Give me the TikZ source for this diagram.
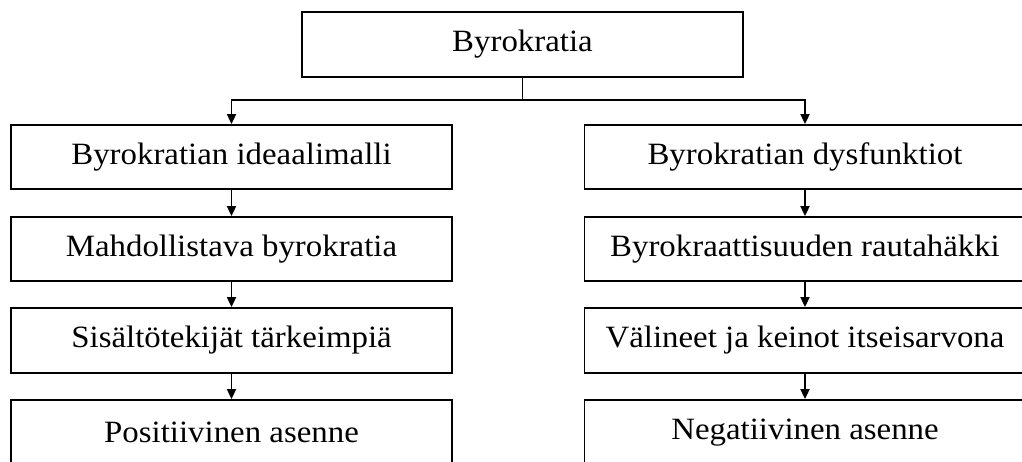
\documentclass[tikz,border=0pt]{standalone}
\usepackage{fontspec}
\setmainfont{Liberation Serif}[FakeStretch=1.06]
\usetikzlibrary{arrows.meta}
\begin{document}
\begin{tikzpicture}[x=1pt,y=-1pt,
  box/.style={draw, line width=1.8pt, minimum width=441pt, minimum height=64pt, inner sep=0pt, font=\fontsize{31}{35}\selectfont},
  arr/.style={line width=1.8pt, -{Triangle[length=10pt,width=9pt]}},
  ln/.style={line width=1.8pt}]
\useasboundingbox[clip] (0,0) rectangle (1022,462);
\node[box, minimum height=65pt] (top) at (522.5,44.5) {Byrokratia};
\node[box] (l1) at (231.5,157) {Byrokratian ideaalimalli};
\node[box] (l2) at (231.5,249) {Mahdollistava byrokratia};
\node[box, minimum height=65pt] (l3) at (231.5,340.5) {Sisältötekijät tärkeimpiä};
\node[box, minimum height=65pt] (l4) at (231.5,432.5) {Positiivinen asenne};
\node[box] (r1) at (805,157) {Byrokratian dysfunktiot};
\node[box] (r2) at (805,249) {Byrokraattisuuden rautahäkki};
\node[box, minimum height=65pt] (r3) at (805,340.5) {Välineet ja keinot itseisarvona};
\node[box, minimum height=65pt] (r4) at (805,432.5) {Negatiivinen asenne};
\coordinate (j) at (522.5,100);
\draw[ln] (top.south) -- (j);
\draw[arr] (j) -| (l1.north);
\draw[arr] (j) -| (r1.north);
\draw[arr] (l1) -- (l2);
\draw[arr] (l2) -- (l3);
\draw[arr] (l3) -- (l4);
\draw[arr] (r1) -- (r2);
\draw[arr] (r2) -- (r3);
\draw[arr] (r3) -- (r4);
\end{tikzpicture}
\end{document}
